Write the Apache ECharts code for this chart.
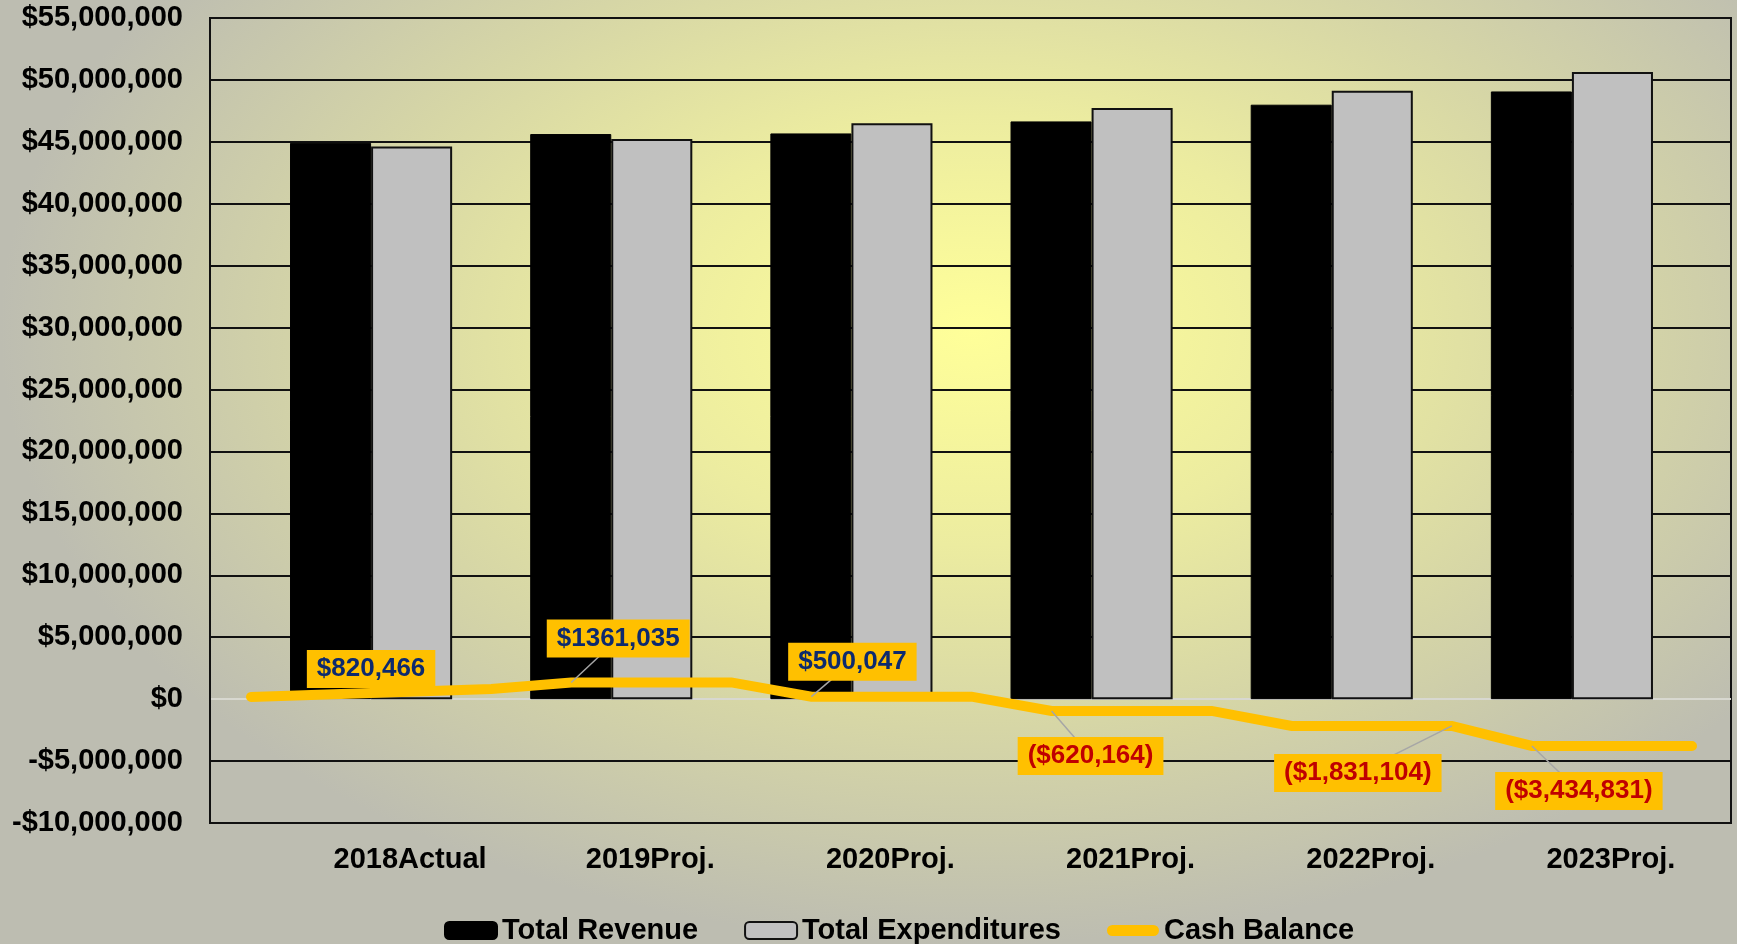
<!DOCTYPE html>
<html>
<head>
<meta charset="utf-8">
<title>Revenue / Expenditures / Cash Balance</title>
<script src="https://cdn.jsdelivr.net/npm/echarts@6/dist/echarts.min.js"></script>
<style>
  html, body { margin: 0; padding: 0; }
  #chartCover {
    width: 1737px; height: 944px;
    background: radial-gradient(ellipse farthest-side at 56% 35%, #ffff99 0%, #ececa0 35%, #d6d6a6 65%, #bdbdb1 100%);
  }
</style>
</head>
<body>
<div id="chartCover"></div>
<script>
  var years = ['2018Actual', '2019Proj.', '2020Proj.', '2021Proj.', '2022Proj.', '2023Proj.'];
  var totalRevenue = [44920000, 45630000, 45680000, 46650000, 48000000, 49070000];
  var totalExpenditures = [44630000, 45220000, 46500000, 47730000, 49130000, 50630000];
  var cashOpening = 180000;
  var cashBalance = [820000, 1350000, 200000, -950000, -2160000, -3780000];
  var cashLabels = ['$820,466', '$1361,035', '$500,047', '($620,164)', '($1,831,104)', '($3,434,831)'];

  var fontName = '"Liberation Sans", Arial, sans-serif';

  // label anchor on the line (x in category units) and box offset in px
  var labelAnchorX = [0.5, 1 + 1/3, 2 + 1/3, 3 + 1/3, 5, 5 + 1/3];
  var labelOffset = [[0, -24], [47, -44], [41, -35], [39, 45], [-94, 47], [47, 45]];

  // line climbs/drops during the first third of each year, then stays flat
  var cashLine = [[0, cashOpening], [1, cashBalance[0]]];
  for (var i = 1; i < cashBalance.length; i++) {
    cashLine.push([i + 1/3, cashBalance[i]]);
    cashLine.push([i + 1, cashBalance[i]]);
  }

  function money(v){
    return (v < 0 ? '-' : '') + '$' + Math.abs(v).toLocaleString('en-US');
  }

  var splitColors = [];
  for (var k = 0; k <= 13; k++) { splitColors.push(k == 2 ? '#d8d8d0' : '#111'); }

  var option = {
    backgroundColor: 'transparent',
    animation: false,
    grid: [
      {left: 210, right: 6, top: 18, bottom: 121, show: true, borderColor: '#111', borderWidth: 2, backgroundColor: 'transparent'},
      {left: 251, right: 45, top: 18, bottom: 121}
    ],
    legend: {
      left: 439,
      top: 911,
      itemWidth: 52,
      itemHeight: 17,
      itemGap: 46,
      itemTextGap: 5,
      textStyle: {fontFamily: fontName, fontWeight: 'bold', fontSize: 29, color: '#000'},
      data: [
        {name: 'Total Revenue'},
        {name: 'Total Expenditures'},
        {name: 'Cash Balance', icon: 'path://M5.5,0 L46.5,0 A5.5,5.5 0 0 1 46.5,11 L5.5,11 A5.5,5.5 0 0 1 5.5,0 Z'}
      ]
    },
    xAxis: [
      {type: 'value', gridIndex: 0, show: false, min: 0, max: 1},
      {
        type: 'category', gridIndex: 1, data: years,
        axisLine: {show: false}, axisTick: {show: false},
        axisLabel: {
          margin: 22, padding: [0, 0, 0, 78],
          fontFamily: fontName, fontWeight: 'bold', fontSize: 29, color: '#000'
        }
      },
      {type: 'value', gridIndex: 1, show: false, min: 0, max: 6}
    ],
    yAxis: [
      {
        type: 'value', gridIndex: 0, min: -10000000, max: 55000000, interval: 5000000,
        axisLine: {show: true, lineStyle: {color: '#111', width: 2}},
        axisTick: {show: false},
        axisLabel: {
          margin: 27, formatter: money,
          fontFamily: fontName, fontWeight: 'bold', fontSize: 29, color: '#000'
        },
        splitLine: {show: true, lineStyle: {color: splitColors, width: 2}}
      },
      {type: 'value', gridIndex: 1, min: -10000000, max: 55000000, interval: 5000000, show: false}
    ],
    series: [
      {
        name: 'Total Revenue', type: 'bar', xAxisIndex: 1, yAxisIndex: 1,
        barGap: '0%', barCategoryGap: '32.5%',
        itemStyle: {color: '#000', borderColor: '#000', borderWidth: 1},
        data: totalRevenue
      },
      {
        name: 'Total Expenditures', type: 'bar', xAxisIndex: 1, yAxisIndex: 1,
        barGap: '0%', barCategoryGap: '32.5%',
        itemStyle: {color: '#c0c0c0', borderColor: '#111', borderWidth: 2},
        data: totalExpenditures
      },
      {
        name: 'Cash Balance', type: 'line', xAxisIndex: 2, yAxisIndex: 1,
        symbol: 'none', z: 5,
        itemStyle: {color: '#ffc000'},
        lineStyle: {color: '#ffc000', width: 10, cap: 'round', join: 'miter'},
        data: cashLine
      }
    ]
  };

  var myChart = echarts.init(document.getElementById('chartCover'));
  myChart.setOption(option, true);

  // data labels with leader lines
  var graphics = [];
  cashLabels.forEach(function(txt, idx){
    var yVal = idx == 0 ? (cashOpening + cashBalance[0]) / 2 : cashBalance[idx];
    var p = myChart.convertToPixel({xAxisIndex: 2, yAxisIndex: 1}, [labelAnchorX[idx], yVal]);
    var cx = p[0] + labelOffset[idx][0];
    var cy = p[1] + labelOffset[idx][1];
    if (idx > 0) {
      graphics.push({
        type: 'line', z: 20,
        shape: {x1: p[0], y1: p[1], x2: cx, y2: cy},
        style: {stroke: '#a6a6a6', lineWidth: 1.5}
      });
    }
    graphics.push({
      type: 'text', z: 30, x: cx, y: cy,
      style: {
        text: txt, align: 'center', verticalAlign: 'middle',
        font: 'bold 26px ' + fontName,
        fill: yVal < 0 || txt.charAt(0) == '(' ? '#c00000' : '#0d2a6e',
        backgroundColor: '#ffc000', padding: [6, 10, 6, 10]
      }
    });
  });
  myChart.setOption({graphic: graphics});
</script>
</body>
</html>
